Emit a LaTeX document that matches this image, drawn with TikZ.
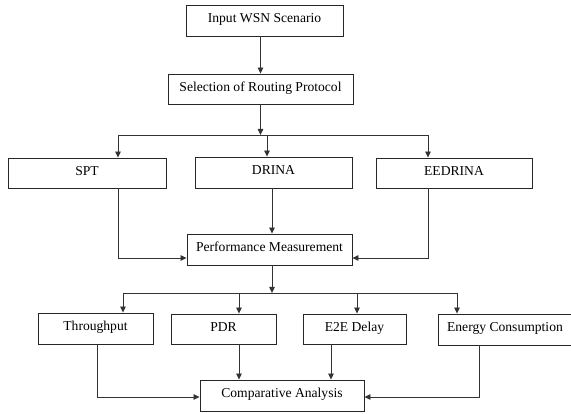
\documentclass[tikz,border=0pt]{standalone}
\usepackage{fontspec}
\setmainfont{Liberation Serif}
\usetikzlibrary{arrows.meta,calc}
\begin{document}
\begin{tikzpicture}[x=1pt,y=-1pt,
  box/.style={draw=black!85,line width=0.9pt,rectangle,inner sep=0pt,
    text height=9pt,text depth=4.5pt,
    font=\fontsize{13.6}{16}\selectfont},
  conn/.style={draw=black!80,line width=0.8pt},
  arr/.style={conn,-{Triangle[length=6pt,width=5.5pt]}}]
\useasboundingbox (0,0) rectangle (571,414);
% boxes
\node[box,minimum width=157,minimum height=31] (in) at (264.5,20.5) {Input WSN Scenario};
\node[box,minimum width=185,minimum height=30] (sel) at (260.5,89) {Selection of Routing Protocol};
\node[box,minimum width=158,minimum height=30] (spt) at (87,173) {SPT};
\node[box,minimum width=157,minimum height=31] (drina) at (273.5,172.5) {DRINA};
\node[box,minimum width=156,minimum height=30] (eed) at (454,173) {EEDRINA};
\node[box,minimum width=165,minimum height=31] (pm) at (269.5,249.5) {Performance Measurement};
\node[box,minimum width=115,minimum height=31] (thr) at (95.5,328.5) {Throughput};
\node[box,minimum width=105,minimum height=30] (pdr) at (223.5,329) {PDR};
\node[box,minimum width=103,minimum height=30] (e2e) at (354.5,329) {E2E Delay};
\node[box,minimum width=134,minimum height=31] (en) at (505,329.5) {Energy Consumption};
\node[box,minimum width=164,minimum height=31] (ca) at (282,395.5) {Comparative Analysis};
% junction coordinates
\coordinate (j1) at (260.5,135);
\coordinate (j1l) at (118,135);
\coordinate (j1m) at (267,135);
\coordinate (j1r) at (428,135);
\coordinate (j2) at (272,293);
\coordinate (j2a) at (123,293);
\coordinate (j2b) at (239,293);
\coordinate (j2c) at (357,293);
\coordinate (j2d) at (457,293);
\coordinate (pmL) at (118,258);
\coordinate (pmR) at (428,258);
\coordinate (caL) at (97,397);
\coordinate (caR) at (479,397);
% connectors
\draw[arr] (in.south -| sel.north) -- (sel.north);
\draw[arr] (sel.south) -- (j1);
\draw[conn] (j1l) -- (j1r);
\draw[arr] (j1l) -- (j1l |- spt.north);
\draw[arr] (j1m) -- (j1m |- drina.north);
\draw[arr] (j1r) -- (j1r |- eed.north);
\draw[arr] (j1l |- spt.south) -- (pmL) -- (pmL -| pm.west);
\draw[arr] (272,0 |- drina.south) -- (272,0 |- pm.north);
\draw[arr] (j1r |- eed.south) -- (pmR) -- (pmR -| pm.east);
\draw[arr] (j2 |- pm.south) -- (j2);
\draw[conn] (j2a) -- (j2d);
\draw[arr] (j2a) -- (j2a |- thr.north);
\draw[arr] (j2b) -- (j2b |- pdr.north);
\draw[arr] (j2c) -- (j2c |- e2e.north);
\draw[arr] (j2d) -- (j2d |- en.north);
\draw[arr] (caL |- thr.south) -- (caL) -- (caL -| ca.west);
\draw[arr] (j2b |- pdr.south) -- (j2b |- ca.north);
\draw[arr] (331,0 |- e2e.south) -- (331,0 |- ca.north);
\draw[arr] (caR |- en.south) -- (caR) -- (caR -| ca.east);
\end{tikzpicture}
\end{document}
